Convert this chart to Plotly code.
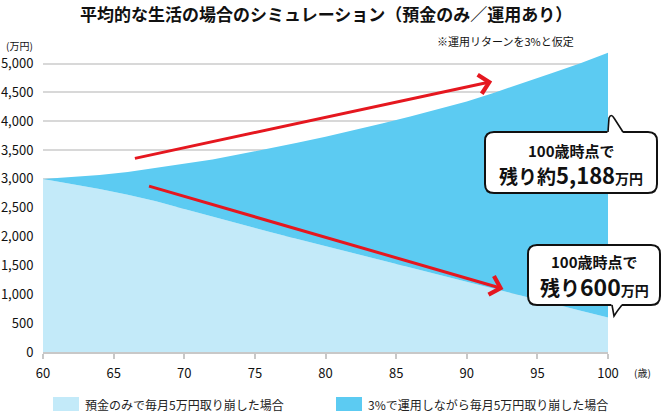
import plotly.graph_objects as go

# 年齢（歳）
ages = [60, 62, 64, 66, 68, 70, 72, 74, 76, 78, 80,
        82, 84, 86, 88, 90, 92, 94, 96, 98, 100]

# 預金のみで毎月5万円取り崩した場合（万円）
deposit_only = [3000, 2915, 2825, 2725, 2615, 2480, 2345, 2215, 2085, 1960, 1835,
                1710, 1590, 1465, 1345, 1220, 1095, 970, 845, 720, 600]

# 3%で運用しながら毎月5万円取り崩した場合（万円）
invested = [3000, 3030, 3070, 3120, 3190, 3255, 3335, 3430, 3525, 3625, 3730,
            3840, 3960, 4080, 4205, 4340, 4500, 4660, 4830, 5000, 5188]

x_ticks = [60, 65, 70, 75, 80, 85, 90, 95, 100]
y_ticks = [0, 500, 1000, 1500, 2000, 2500, 3000, 3500, 4000, 4500, 5000]

legend_labels = ["預金のみで毎月5万円取り崩した場合", "3%で運用しながら毎月5万円取り崩した場合"]

LIGHT = "#c3eaf9"
DARK = "#5ccbf2"
RED = "#e5171f"
FONT = "Noto Sans CJK JP"

W, H = 662, 412
ML, MR, MT, MB = 43, 54, 52, 60
PW, PH = W - ML - MR, H - MT - MB


# pixel -> paper
def px(x):
    return (x - ML) / PW


def py(y):
    return (H - MB - y) / PH


def rounded_rect(x0, y0, x1, y1, r):
    return (
        f"M {px(x0 + r)},{py(y0)} L {px(x1 - r)},{py(y0)} "
        f"Q {px(x1)},{py(y0)} {px(x1)},{py(y0 + r)} L {px(x1)},{py(y1 - r)} "
        f"Q {px(x1)},{py(y1)} {px(x1 - r)},{py(y1)} L {px(x0 + r)},{py(y1)} "
        f"Q {px(x0)},{py(y1)} {px(x0)},{py(y1 - r)} L {px(x0)},{py(y0 + r)} "
        f"Q {px(x0)},{py(y0)} {px(x0 + r)},{py(y0)} Z"
    )


def poly(points, close=True):
    s = "M " + " L ".join(f"{px(a)},{py(b)}" for a, b in points)
    return s + (" Z" if close else "")


def label(x, y, text, size, anchor="center", color="#111"):
    return dict(xref="paper", yref="paper", x=px(x), y=py(y), xanchor=anchor,
                yanchor="middle", showarrow=False, text=text,
                font=dict(size=size, color=color, family=FONT))


fig = go.Figure()

fig.add_trace(go.Scatter(
    x=ages, y=deposit_only, mode="lines", line=dict(width=0),
    fill="tozeroy", fillcolor=LIGHT, name=legend_labels[0], showlegend=False,
))
fig.add_trace(go.Scatter(
    x=ages, y=invested, mode="lines", line=dict(width=0),
    fill="tonexty", fillcolor=DARK, name=legend_labels[1], showlegend=False,
))

shapes = []
annotations = []

# red arrows
for (x0, y0), (x1, y1) in [((66.4, 3351), (91.8, 4688)), ((67.4, 2882), (92.6, 1094))]:
    annotations.append(dict(
        x=x1, y=y1, ax=x0, ay=y0, xref="x", yref="y", axref="x", ayref="y",
        text="", showarrow=True, arrowhead=4, arrowsize=1.25, arrowwidth=3,
        arrowcolor=RED, standoff=0,
    ))

# speech bubbles
shapes.append(dict(type="path", xref="paper", yref="paper",
                   path=rounded_rect(485, 132, 657, 193, 9),
                   fillcolor="white", line=dict(color="#111", width=2)))
shapes.append(dict(type="path", xref="paper", yref="paper",
                   path=poly([(607, 135), (610, 118), (625, 135)]),
                   fillcolor="white", line=dict(width=0)))
shapes.append(dict(type="path", xref="paper", yref="paper",
                   path=f"M {px(608)},{py(132)} L {px(609)},{py(118)} "
                        f"Q {px(611)},{py(113)} {px(614)},{py(118)} L {px(623)},{py(132)}",
                   fillcolor="rgba(0,0,0,0)", line=dict(color="#111", width=1.6)))

shapes.append(dict(type="path", xref="paper", yref="paper",
                   path=rounded_rect(528, 245, 660, 305, 9),
                   fillcolor="white", line=dict(color="#111", width=2)))
shapes.append(dict(type="path", xref="paper", yref="paper",
                   path=poly([(611, 303), (614, 314), (623, 303)]),
                   fillcolor="white", line=dict(width=0)))
shapes.append(dict(type="path", xref="paper", yref="paper",
                   path=f"M {px(612)},{py(305)} L {px(614)},{py(316)} "
                        f"Q {px(617)},{py(311)} {px(622)},{py(305)}",
                   fillcolor="rgba(0,0,0,0)", line=dict(color="#111", width=1.6)))

annotations += [
    label(571, 150, "<b>100歳時点で</b>", 15),
    label(571, 174, "<b><span style='font-size:19px'>残り約</span>"
                    "<span style='font-size:22px'>5,188</span>"
                    "<span style='font-size:14px'>万円</span></b>", 19),
    label(594, 261, "<b>100歳時点で</b>", 15),
    label(594, 286, "<b><span style='font-size:20px'>残り</span>"
                    "<span style='font-size:23px'>600</span>"
                    "<span style='font-size:14px'>万円</span></b>", 20),
]

# legend (drawn by hand)
for (x0, x1), color, text in [((53, 79), LIGHT, legend_labels[0]),
                              ((336, 362), DARK, legend_labels[1])]:
    shapes.append(dict(type="rect", xref="paper", yref="paper",
                       x0=px(x0), x1=px(x1), y0=py(397), y1=py(411),
                       fillcolor=color, line=dict(width=0)))
    annotations.append(label(x1 + 4, 404, text, 12, anchor="left", color="#222"))

# titles and units
annotations += [
    label(326, 14, "<b>平均的な生活の場合のシミュレーション（預金のみ／運用あり）</b>", 17),
    label(576, 41, "※運用リターンを3%と仮定", 11, anchor="right"),
    label(4, 46, "(万円)", 10, anchor="left"),
    label(632, 372, "(歳)", 10, anchor="left"),
]

fig.update_layout(
    width=W, height=H,
    margin=dict(l=ML, r=MR, t=MT, b=MB, autoexpand=False),
    paper_bgcolor="white", plot_bgcolor="white",
    font=dict(family=FONT, color="#111"),
    showlegend=False,
    xaxis=dict(
        range=[60, 100], tickvals=x_ticks, showgrid=False, zeroline=False,
        showline=True, linecolor="#c8c8c8", linewidth=1.5,
        ticks="outside", ticklen=5, tickcolor="#c8c8c8", tickwidth=1.5,
        ticklabelstandoff=4, tickfont=dict(size=13, color="#111"),
        layer="above traces", automargin=False,
    ),
    yaxis=dict(
        range=[0, 5200], tickvals=y_ticks, tickformat=",d",
        showgrid=True, gridcolor="#d8d8d8", gridwidth=1.5, zeroline=False,
        showline=False, ticks="outside", ticklen=6, tickcolor="rgba(0,0,0,0)",
        tickfont=dict(size=13, color="#111"), layer="above traces",
        automargin=False,
    ),
    shapes=shapes,
    annotations=annotations,
)

fig.write_html("out.html", config={"displayModeBar": False},
               post_script="document.body.style.margin = '0';")
